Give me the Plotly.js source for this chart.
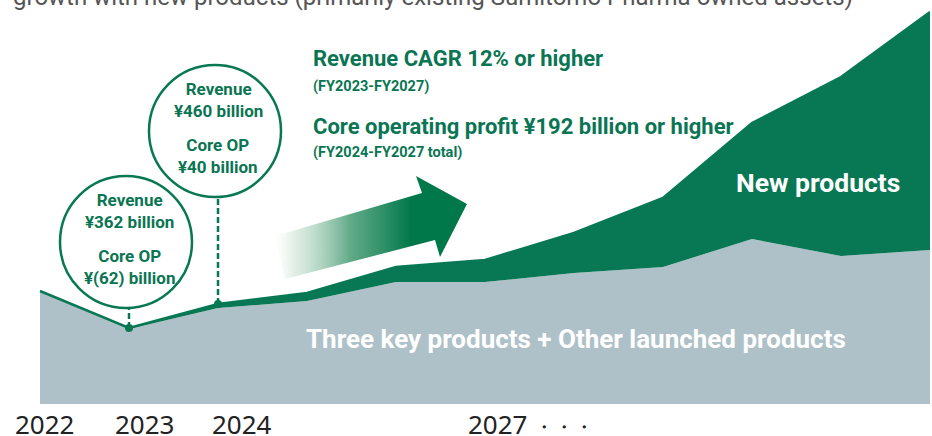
<!DOCTYPE html>
<html>
<head>
<meta charset="utf-8">
<script src="https://cdn.plot.ly/plotly-3.0.1.min.js"></script>
<style>
  html,body{margin:0;padding:0;background:#fff;}
  #chart{width:932px;height:436px;}
</style>
</head>
<body>
<div id="chart"></div>
<script>
// Growth outlook: existing products vs. new products (stacked areas, conceptual scale)
const period   = [0, 1, 2, 3, 4, 5, 6, 7, 8, 9, 10];
const existing = [113, 75, 96, 103, 122, 122, 131, 137, 165, 148, 154];   // Three key + other launched
const newProd  = [0, 1, 4, 8, 15, 22, 40, 69, 116, 179, 238];             // New products
const yearLabels = ["2022", "2023", "2024", "2027 <span style='font-size:20px'>・・・</span>"];
const callouts = [
  {idx: 1, rev: "¥362 billion", op: "¥(62) billion"},
  {idx: 2, rev: "¥460 billion", op: "¥40 billion"}
];
const targets = [
  "Revenue CAGR 12% or higher", "(FY2023-FY2027)",
  "Core operating profit ¥192 billion or higher", "(FY2024-FY2027 total)"
];

const GREEN = "#087854", GRAY = "#aec1c8", TXT = "#0a7552";
const BOLD = "'Liberation Sans Narrow', 'Arial Narrow', Roboto, sans-serif";
const total = existing.map((v,i)=>v+newProd[i]);

// x: 1 unit = 89px with the first point 40px from the left; y: 1 unit = 1px
const px = p => (p-40)/89;

const traces = [
  {x:period, y:existing, stackgroup:"a", mode:"lines", line:{width:0, color:GRAY},
   fillcolor:GRAY, hoverinfo:"skip"},
  {x:period, y:newProd, stackgroup:"a", mode:"lines", line:{width:2.5, color:GREEN},
   fillcolor:GREEN, hoverinfo:"skip"},
  // gradient arrow (decoration)
  {x:[px(275),px(422),px(416),px(467),px(440),px(435),px(285),px(275)],
   y:[168,211,228,200,147,164,125,168], mode:"lines", line:{width:0},
   fill:"toself",
   fillgradient:{type:"horizontal", start:px(270), stop:px(430),
     colorscale:[[0,"rgba(255,255,255,0)"],[0.15,"rgba(190,220,200,0.45)"],[0.5,"rgba(70,155,115,0.85)"],[0.88,"#00784a"],[1,"#00784a"]]},
   hoverinfo:"skip"},
  {x:callouts.map(c=>period[c.idx]), y:callouts.map(c=>total[c.idx]), mode:"markers",
   marker:{size:8, color:GREEN}, hoverinfo:"skip"}
];

const shapes = [], annotations = [];
const circ = [{dy:86, r:66}, {dy:173, r:66}];
callouts.forEach((c,k)=>{
  const xa = period[c.idx], ya = total[c.idx], d = circ[k].dy, r = circ[k].r;
  shapes.push({type:"circle", xref:"x", yref:"y", xsizemode:"pixel", ysizemode:"pixel",
    xanchor:xa, yanchor:ya, x0:-3-r, x1:-3+r, y0:d-r, y1:d+r,
    line:{color:GREEN, width:2.5}, fillcolor:"rgba(255,255,255,0)"});
  shapes.push({type:"line", xref:"x", yref:"y", xsizemode:"pixel", ysizemode:"pixel",
    xanchor:xa, yanchor:ya, x0:0, x1:0, y0:0, y1:d-r,
    line:{color:GREEN, width:2.5, dash:"6px,3px"}});
  annotations.push({x:xa, y:ya, xref:"x", yref:"y", showarrow:false, yshift:d+31, xshift:0,
    text:"Revenue<br>"+c.rev, font:{family:BOLD, size:17, color:TXT, weight:700}});
  annotations.push({x:xa, y:ya, xref:"x", yref:"y", showarrow:false, yshift:d-25, xshift:0,
    text:"Core OP<br>"+c.op, font:{family:BOLD, size:17, color:TXT, weight:700}});
});

const tgtY = [346, 318, 278, 252], tgtSize = [22, 14.5, 22, 14.5];
targets.forEach((t,i)=>annotations.push({x:px(311), y:tgtY[i], xref:"x", yref:"y", xanchor:"left",
  showarrow:false, text:t, font:{family:BOLD, size:tgtSize[i], color:TXT, weight:700}}));

annotations.push({x:px(734), y:222, xref:"x", yref:"y", xanchor:"left", showarrow:false,
  text:"New products", font:{family:BOLD, size:26.5, color:"#fff", weight:700}});
annotations.push({x:px(304), y:65, xref:"x", yref:"y", xanchor:"left", showarrow:false,
  text:"Three key products + Other launched products", font:{family:BOLD, size:26, color:"#fff", weight:700}});

const labLeft = [13, 113, 210, 466];
yearLabels.forEach((t,i)=>annotations.push({x:px(labLeft[i]), y:-20, xref:"x", yref:"y", xanchor:"left",
  showarrow:false, text:t, font:{family:"'Noto Sans', sans-serif", size:26, color:"#222"}}));
annotations.push({x:px(931), y:-20, xref:"x", yref:"y", xanchor:"right", showarrow:false,
  text:"(FY)", font:{family:"'Noto Sans', sans-serif", size:15, color:"#333"}});
annotations.push({x:0, y:1, xref:"paper", yref:"paper", xanchor:"left", yanchor:"middle", yshift:3, xshift:11,
  showarrow:false, text:"growth with new products (primarily existing Sumitomo Pharma owned assets)",
  font:{family:"Roboto, sans-serif", size:24, color:"#555"}});

Plotly.newPlot("chart", traces, {
  width:932, height:436, margin:{l:0, r:2, t:0, b:0},
  paper_bgcolor:"#fff", plot_bgcolor:"#fff", showlegend:false,
  xaxis:{range:[px(0), 10], visible:false, fixedrange:true},
  yaxis:{range:[-32, 404], visible:false, fixedrange:true},
  shapes:shapes, annotations:annotations
}, {staticPlot:true, displayModeBar:false});
</script>
</body>
</html>
